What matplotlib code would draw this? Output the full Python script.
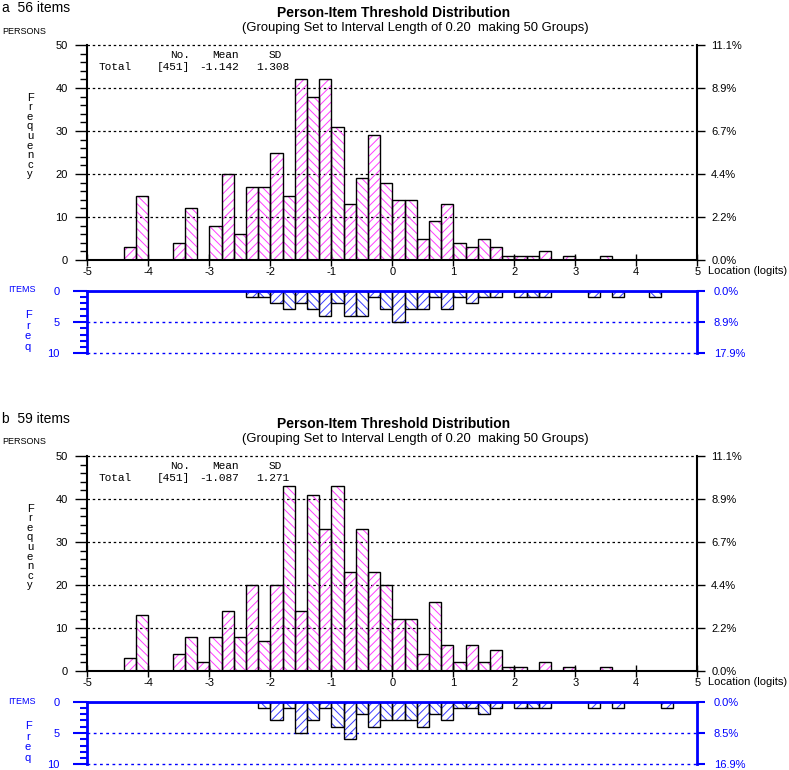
import numpy as np
import matplotlib
matplotlib.use("Agg")
import matplotlib.pyplot as plt

plt.rcParams['font.family'] = ['Liberation Sans', 'DejaVu Sans']
plt.rcParams['hatch.linewidth'] = 0.7

# 50 groups of width 0.20 from -5 to 5 logits
bin_left = np.round(np.arange(-5, 5, 0.2), 2)

persons_a = [0, 0, 0, 3, 15, 0, 0, 4, 12, 0,
             8, 20, 6, 17, 17, 25, 15, 42, 38, 42,
             31, 13, 19, 29, 18, 14, 14, 5, 9, 13,
             4, 3, 5, 3, 1, 1, 1, 2, 0, 1,
             0, 0, 1, 0, 0, 0, 0, 0, 0, 0]
items_a = [0, 0, 0, 0, 0, 0, 0, 0, 0, 0,
           0, 0, 0, 1, 1, 2, 3, 2, 3, 4,
           2, 4, 4, 1, 3, 5, 3, 3, 1, 3,
           1, 2, 1, 1, 0, 1, 1, 1, 0, 0,
           0, 1, 0, 1, 0, 0, 1, 0, 0, 0]
persons_b = [0, 0, 0, 3, 13, 0, 0, 4, 8, 2,
             8, 14, 8, 20, 7, 20, 43, 14, 41, 33,
             43, 23, 33, 23, 20, 12, 12, 4, 16, 6,
             2, 6, 2, 5, 1, 1, 0, 2, 0, 1,
             0, 0, 1, 0, 0, 0, 0, 0, 0, 0]
items_b = [0, 0, 0, 0, 0, 0, 0, 0, 0, 0,
           0, 0, 0, 0, 1, 3, 1, 5, 3, 1,
           4, 6, 2, 4, 3, 3, 3, 4, 2, 3,
           1, 1, 2, 1, 0, 1, 1, 1, 0, 0,
           0, 1, 0, 1, 0, 0, 0, 1, 0, 0]

panel_labels = ["a  56 items", "b  59 items"]
stat_means = ["-1.142", "-1.087"]
stat_sds = ["1.308", "1.271"]

W, H = 789, 770
fig = plt.figure(figsize=(W / 100, H / 100), dpi=100)

PINK = '#ff3cff'
BLUE = '#0000ff'
HBLUE = '#3a3aff'


def rect(x0, y0, x1, y1):
    return [x0 / W, 1 - y1 / H, (x1 - x0) / W, (y1 - y0) / H]


def ftext(x, y, s, **kw):
    fig.text(x / W, 1 - y / H, s, **kw)


def hatched_bars(ax, counts, col):
    hb = ax.bar(bin_left, counts, width=0.2, align='edge', color='none',
                edgecolor=col, linewidth=0)
    for k, p in enumerate(hb):
        p.set_hatch('////' if k % 2 else '\\\\\\\\')
    ax.bar(bin_left, counts, width=0.2, align='edge', color='none',
           edgecolor='black', linewidth=1.0)


def draw_panel(dy, label, persons, items, mean, sd):
    x0, x1 = 87.3, 697.3
    # header texts
    ftext(2, 8 + dy, label, fontsize=10, va='center')
    ftext(394, 13 + dy, "Person-Item Threshold Distribution", fontsize=10,
          fontweight='bold', ha='center', va='center')
    ftext(242, 28 + dy, "(Grouping Set to Interval Length of 0.20  making 50 Groups)",
          fontsize=9.4, ha='left', va='center')
    ftext(2, 31 + dy, "PERSONS", fontsize=6.5, va='center')

    # persons histogram
    ax = fig.add_axes(rect(x0, 45 + dy, x1, 260 + dy))
    hatched_bars(ax, persons, PINK)
    ax.set_xlim(-5, 5)
    ax.set_ylim(0, 50)
    for g in range(10, 51, 10):
        ax.axhline(g, color='black', lw=0.9, dashes=(2, 2.2), clip_on=False, zorder=0)
    ax.spines['top'].set_visible(False)
    ax.spines['left'].set_linewidth(1.5)
    ax.spines['bottom'].set_linewidth(1.5)
    ax.spines['right'].set_linewidth(1.5)
    ax.set_xticks(range(-5, 6))
    ax.set_xticklabels([str(v) for v in range(-5, 6)], fontsize=8)
    ax.tick_params(axis='x', direction='inout', length=8, width=1, pad=1)
    ax.set_yticks(range(0, 51, 10))
    ax.set_yticks(range(0, 51, 2), minor=True)
    ax.tick_params(axis='y', which='major', direction='out', length=9, width=1,
                   labelsize=8, pad=5)
    ax.tick_params(axis='y', which='minor', direction='out', length=5, width=1)
    axr = ax.twinx()
    axr.set_ylim(0, 50)
    tot = sum(persons)
    axr.set_yticks(range(0, 51, 10))
    axr.set_yticklabels(["%.1f%%" % (v / tot * 100) for v in range(0, 51, 10)], fontsize=8)
    axr.tick_params(axis='y', direction='out', length=6, width=1, pad=4)
    for s in axr.spines.values():
        s.set_visible(False)
    ftext(708, 271 + dy, "Location (logits)", fontsize=8, va='center')

    # frequency label
    ftext(30, 136 + dy, "\n".join("Frequency"), fontsize=8, ha='center',
          va='center', linespacing=0.95)

    # stats
    mono = dict(family='Liberation Mono', fontsize=8, va='center')
    ftext(170, 55 + dy, "No.", **mono)
    ftext(212, 55 + dy, "Mean", **mono)
    ftext(269, 55 + dy, "SD", **mono)
    ftext(99, 67 + dy, "Total", **mono)
    ftext(157, 67 + dy, "[%d]" % sum(persons), **mono)
    ftext(199, 67 + dy, mean, **mono)
    ftext(256, 67 + dy, sd, **mono)

    # items histogram (hanging down)
    axi = fig.add_axes(rect(x0, 290.7 + dy, x1, 353.3 + dy))
    hatched_bars(axi, items, HBLUE)
    axi.set_xlim(-5, 5)
    axi.set_ylim(10, 0)
    for g in (5, 10):
        axi.axhline(g, color=BLUE, lw=1.0, dashes=(2, 2.5), clip_on=False, zorder=0)
    axi.spines['bottom'].set_visible(False)
    for s in ('top', 'left', 'right'):
        axi.spines[s].set_color(BLUE)
        axi.spines[s].set_linewidth(2)
    axi.set_xticks([])
    axi.set_yticks([0, 5, 10])
    axi.set_yticks(range(0, 11), minor=True)
    axi.tick_params(axis='y', which='major', direction='out', length=10, width=1.5,
                    color=BLUE, labelcolor=BLUE, labelsize=8, pad=10)
    axi.tick_params(axis='y', which='minor', direction='out', length=5, width=1.5,
                    color=BLUE)
    axir = axi.twinx()
    axir.set_ylim(10, 0)
    itot = sum(items)
    axir.set_yticks([0, 5, 10])
    axir.set_yticklabels(["%.1f%%" % (v / itot * 100) for v in (0, 5, 10)], fontsize=8)
    axir.tick_params(axis='y', direction='out', length=6, width=1.5, color=BLUE,
                     labelcolor=BLUE, pad=6)
    for s in axir.spines.values():
        s.set_visible(False)
    ftext(22, 290 + dy, "ITEMS", fontsize=6.5, color=BLUE, ha='center', va='center')
    ftext(28, 331 + dy, "\n".join("Freq"), fontsize=8, color=BLUE, ha='center',
          va='center', linespacing=1.1)


draw_panel(0, panel_labels[0], persons_a, items_a, stat_means[0], stat_sds[0])
draw_panel(411, panel_labels[1], persons_b, items_b, stat_means[1], stat_sds[1])

fig.savefig("out.png", dpi=100)
